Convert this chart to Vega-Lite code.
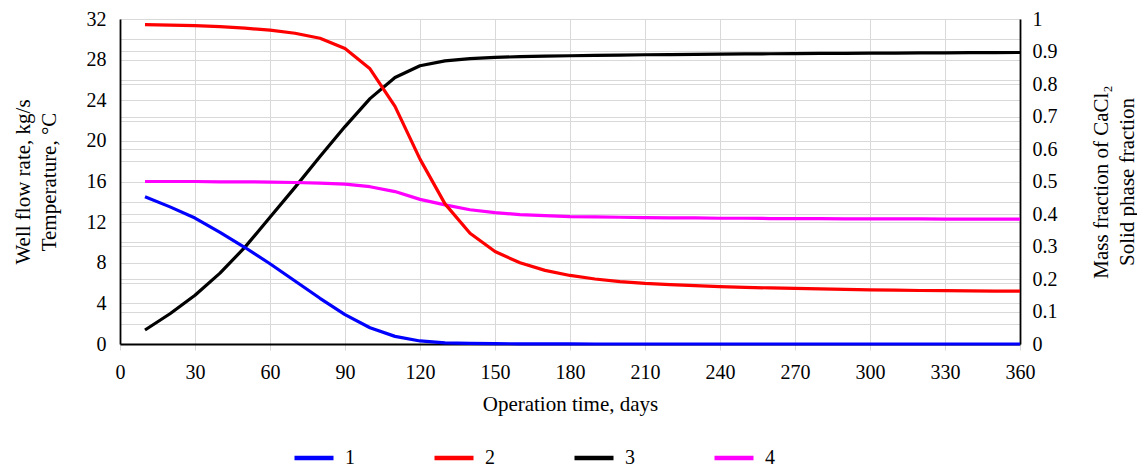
{
  "$schema": "https://vega.github.io/schema/vega-lite/v6.json",
  "width": 900,
  "height": 325,
  "autosize": {"type": "none"},
  "padding": {"left": 120, "top": 19, "right": 117, "bottom": 124},
  "background": "white",
  "config": {
    "font": "Liberation Serif",
    "view": {"stroke": null},
    "axis": {
      "domainColor": "#000000",
      "domainWidth": 1.8,
      "gridColor": "#d9d9d9",
      "gridWidth": 1,
      "labelFontSize": 20,
      "titleFontSize": 21,
      "labelColor": "#000000",
      "titleColor": "#000000",
      "titleFontWeight": "normal",
      "labelFont": "Liberation Serif",
      "titleFont": "Liberation Serif"
    },
    "legend": {"labelFont": "Liberation Serif"}
  },
  "data": {
    "values": [
      {"day": 10, "series": "1", "value": 14.5},
      {"day": 20, "series": "1", "value": 13.5},
      {"day": 30, "series": "1", "value": 12.4},
      {"day": 40, "series": "1", "value": 11.0},
      {"day": 50, "series": "1", "value": 9.5},
      {"day": 60, "series": "1", "value": 7.9},
      {"day": 70, "series": "1", "value": 6.2},
      {"day": 80, "series": "1", "value": 4.5},
      {"day": 90, "series": "1", "value": 2.9},
      {"day": 100, "series": "1", "value": 1.6},
      {"day": 110, "series": "1", "value": 0.75},
      {"day": 120, "series": "1", "value": 0.3},
      {"day": 130, "series": "1", "value": 0.12},
      {"day": 140, "series": "1", "value": 0.06},
      {"day": 150, "series": "1", "value": 0.03},
      {"day": 160, "series": "1", "value": 0.02},
      {"day": 170, "series": "1", "value": 0.01},
      {"day": 180, "series": "1", "value": 0.01},
      {"day": 190, "series": "1", "value": 0.0},
      {"day": 200, "series": "1", "value": 0.0},
      {"day": 210, "series": "1", "value": 0.0},
      {"day": 220, "series": "1", "value": 0.0},
      {"day": 230, "series": "1", "value": 0.0},
      {"day": 240, "series": "1", "value": 0.0},
      {"day": 250, "series": "1", "value": 0.0},
      {"day": 260, "series": "1", "value": 0.0},
      {"day": 270, "series": "1", "value": 0.0},
      {"day": 280, "series": "1", "value": 0.0},
      {"day": 290, "series": "1", "value": 0.0},
      {"day": 300, "series": "1", "value": 0.0},
      {"day": 310, "series": "1", "value": 0.0},
      {"day": 320, "series": "1", "value": 0.0},
      {"day": 330, "series": "1", "value": 0.0},
      {"day": 340, "series": "1", "value": 0.0},
      {"day": 350, "series": "1", "value": 0.0},
      {"day": 360, "series": "1", "value": 0.0},
      {"day": 10, "series": "2", "value": 31.45},
      {"day": 20, "series": "2", "value": 31.4},
      {"day": 30, "series": "2", "value": 31.35},
      {"day": 40, "series": "2", "value": 31.25},
      {"day": 50, "series": "2", "value": 31.1},
      {"day": 60, "series": "2", "value": 30.9},
      {"day": 70, "series": "2", "value": 30.6},
      {"day": 80, "series": "2", "value": 30.1},
      {"day": 90, "series": "2", "value": 29.1},
      {"day": 100, "series": "2", "value": 27.1},
      {"day": 110, "series": "2", "value": 23.4},
      {"day": 120, "series": "2", "value": 18.2},
      {"day": 130, "series": "2", "value": 13.8},
      {"day": 140, "series": "2", "value": 10.9},
      {"day": 150, "series": "2", "value": 9.1},
      {"day": 160, "series": "2", "value": 8.0},
      {"day": 170, "series": "2", "value": 7.25},
      {"day": 180, "series": "2", "value": 6.75},
      {"day": 190, "series": "2", "value": 6.4},
      {"day": 200, "series": "2", "value": 6.15},
      {"day": 210, "series": "2", "value": 5.97},
      {"day": 220, "series": "2", "value": 5.85},
      {"day": 230, "series": "2", "value": 5.75},
      {"day": 240, "series": "2", "value": 5.65},
      {"day": 250, "series": "2", "value": 5.58},
      {"day": 260, "series": "2", "value": 5.52},
      {"day": 270, "series": "2", "value": 5.47},
      {"day": 280, "series": "2", "value": 5.42},
      {"day": 290, "series": "2", "value": 5.37},
      {"day": 300, "series": "2", "value": 5.33},
      {"day": 310, "series": "2", "value": 5.3},
      {"day": 320, "series": "2", "value": 5.27},
      {"day": 330, "series": "2", "value": 5.25},
      {"day": 340, "series": "2", "value": 5.23},
      {"day": 350, "series": "2", "value": 5.21},
      {"day": 360, "series": "2", "value": 5.2},
      {"day": 10, "series": "3", "value": 0.043},
      {"day": 20, "series": "3", "value": 0.093},
      {"day": 30, "series": "3", "value": 0.15},
      {"day": 40, "series": "3", "value": 0.218},
      {"day": 50, "series": "3", "value": 0.298},
      {"day": 60, "series": "3", "value": 0.39},
      {"day": 70, "series": "3", "value": 0.482},
      {"day": 80, "series": "3", "value": 0.577},
      {"day": 90, "series": "3", "value": 0.669},
      {"day": 100, "series": "3", "value": 0.755},
      {"day": 110, "series": "3", "value": 0.82},
      {"day": 120, "series": "3", "value": 0.856},
      {"day": 130, "series": "3", "value": 0.871},
      {"day": 140, "series": "3", "value": 0.878},
      {"day": 150, "series": "3", "value": 0.882},
      {"day": 160, "series": "3", "value": 0.884},
      {"day": 170, "series": "3", "value": 0.886},
      {"day": 180, "series": "3", "value": 0.887},
      {"day": 190, "series": "3", "value": 0.888},
      {"day": 200, "series": "3", "value": 0.889},
      {"day": 210, "series": "3", "value": 0.89},
      {"day": 220, "series": "3", "value": 0.8905},
      {"day": 230, "series": "3", "value": 0.891},
      {"day": 240, "series": "3", "value": 0.892},
      {"day": 250, "series": "3", "value": 0.8925},
      {"day": 260, "series": "3", "value": 0.893},
      {"day": 270, "series": "3", "value": 0.8935},
      {"day": 280, "series": "3", "value": 0.894},
      {"day": 290, "series": "3", "value": 0.8945},
      {"day": 300, "series": "3", "value": 0.895},
      {"day": 310, "series": "3", "value": 0.8953},
      {"day": 320, "series": "3", "value": 0.8956},
      {"day": 330, "series": "3", "value": 0.896},
      {"day": 340, "series": "3", "value": 0.8963},
      {"day": 350, "series": "3", "value": 0.8966},
      {"day": 360, "series": "3", "value": 0.897},
      {"day": 10, "series": "4", "value": 0.5},
      {"day": 20, "series": "4", "value": 0.5},
      {"day": 30, "series": "4", "value": 0.5},
      {"day": 40, "series": "4", "value": 0.499},
      {"day": 50, "series": "4", "value": 0.499},
      {"day": 60, "series": "4", "value": 0.498},
      {"day": 70, "series": "4", "value": 0.497},
      {"day": 80, "series": "4", "value": 0.495},
      {"day": 90, "series": "4", "value": 0.492},
      {"day": 100, "series": "4", "value": 0.484},
      {"day": 110, "series": "4", "value": 0.469},
      {"day": 120, "series": "4", "value": 0.445},
      {"day": 130, "series": "4", "value": 0.428},
      {"day": 140, "series": "4", "value": 0.413},
      {"day": 150, "series": "4", "value": 0.404},
      {"day": 160, "series": "4", "value": 0.398},
      {"day": 170, "series": "4", "value": 0.395},
      {"day": 180, "series": "4", "value": 0.392},
      {"day": 190, "series": "4", "value": 0.391},
      {"day": 200, "series": "4", "value": 0.39},
      {"day": 210, "series": "4", "value": 0.389},
      {"day": 220, "series": "4", "value": 0.388},
      {"day": 230, "series": "4", "value": 0.388},
      {"day": 240, "series": "4", "value": 0.387},
      {"day": 250, "series": "4", "value": 0.387},
      {"day": 260, "series": "4", "value": 0.386},
      {"day": 270, "series": "4", "value": 0.386},
      {"day": 280, "series": "4", "value": 0.386},
      {"day": 290, "series": "4", "value": 0.385},
      {"day": 300, "series": "4", "value": 0.385},
      {"day": 310, "series": "4", "value": 0.385},
      {"day": 320, "series": "4", "value": 0.385},
      {"day": 330, "series": "4", "value": 0.384},
      {"day": 340, "series": "4", "value": 0.384},
      {"day": 350, "series": "4", "value": 0.384},
      {"day": 360, "series": "4", "value": 0.384}
    ]
  },
  "encoding": {
    "x": {
      "field": "day",
      "type": "quantitative",
      "scale": {"domain": [0, 360], "nice": false},
      "axis": {
        "values": [0, 30, 60, 90, 120, 150, 180, 210, 240, 270, 300, 330, 360],
        "title": "Operation time, days",
        "grid": true,
        "ticks": true,
        "tickColor": "#d9d9d9",
        "tickSize": 6,
        "labelPadding": 12,
        "titlePadding": 11,
        "labelFlush": false
      }
    },
    "color": {
      "field": "series",
      "type": "nominal",
      "scale": {"domain": ["1", "2", "3", "4"], "range": ["#0000ff", "#ff0000", "#000000", "#ff00ff"]},
      "legend": {
        "title": null,
        "orient": "none",
        "direction": "horizontal",
        "legendX": 172,
        "legendY": 417,
        "padding": 0,
        "symbolType": "stroke",
        "symbolSize": 1521,
        "symbolStrokeWidth": 4.5,
        "labelFontSize": 20,
        "labelColor": "#000000",
        "labelOffset": 9,
        "columnPadding": 70
      }
    }
  },
  "layer": [
    {
      "transform": [{"filter": "datum.series == '3' || datum.series == '4'"}],
      "mark": {"type": "line", "interpolate": "linear", "strokeWidth": 3.2, "strokeJoin": "round"},
      "encoding": {
        "y": {
          "field": "value",
          "type": "quantitative",
          "scale": {"domain": [0, 1], "nice": false},
          "axis": {
            "orient": "right",
            "values": [0, 0.1, 0.2, 0.3, 0.4, 0.5, 0.6, 0.7, 0.8, 0.9, 1],
            "format": ".1~f",
            "ticks": false,
            "labelPadding": 12,
            "grid": true,
            "title": ["Mass fraction of CaCl₂", "Solid phase fraction"],
            "titleAngle": 270,
            "titleLineHeight": 26,
            "titlePadding": 28
          }
        }
      }
    },
    {
      "transform": [{"filter": "datum.series == '1' || datum.series == '2'"}],
      "mark": {"type": "line", "interpolate": "linear", "strokeWidth": 3.2, "strokeJoin": "round"},
      "encoding": {
        "y": {
          "field": "value",
          "type": "quantitative",
          "scale": {"domain": [0, 32], "nice": false},
          "axis": {
            "orient": "left",
            "values": [0, 2, 4, 6, 8, 10, 12, 14, 16, 18, 20, 22, 24, 26, 28, 30, 32],
            "labelExpr": "datum.value % 4 == 0 ? datum.label : ''",
            "ticks": false,
            "labelPadding": 14,
            "grid": true,
            "title": ["Well flow rate, kg/s", "Temperature, °C"],
            "titleLineHeight": 26,
            "titlePadding": 27
          }
        }
      }
    }
  ],
  "resolve": {"scale": {"y": "independent"}}
}
